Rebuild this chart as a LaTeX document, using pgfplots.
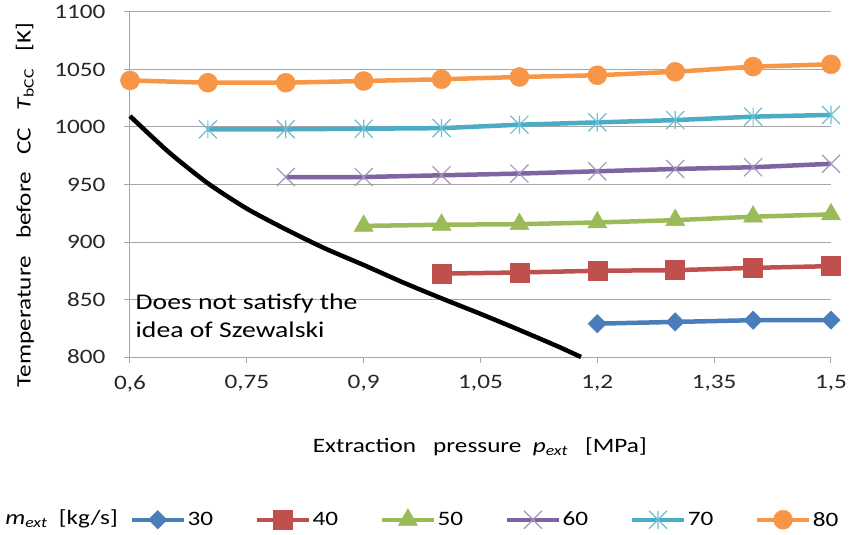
\documentclass[border=0pt]{standalone}
\usepackage{pgfplots}
\pgfplotsset{compat=1.18}
\usepackage{fontspec}
\setmainfont{Carlito}[FakeStretch=1.23]
\definecolor{cblue}{HTML}{4A7EBB}
\definecolor{cred}{HTML}{C0504D}
\definecolor{cgreen}{HTML}{9BBB59}
\definecolor{cpurple}{HTML}{8064A2}
\definecolor{ccyan}{HTML}{4BACC6}
\definecolor{corange}{HTML}{F79646}
\definecolor{cgrid}{HTML}{A6A6A6}
\pgfdeclareplotmark{xstar}{%
  \pgfpathmoveto{\pgfqpoint{-\pgfplotmarksize}{-\pgfplotmarksize}}%
  \pgfpathlineto{\pgfqpoint{\pgfplotmarksize}{\pgfplotmarksize}}%
  \pgfpathmoveto{\pgfqpoint{-\pgfplotmarksize}{\pgfplotmarksize}}%
  \pgfpathlineto{\pgfqpoint{\pgfplotmarksize}{-\pgfplotmarksize}}%
  \pgfpathmoveto{\pgfqpoint{0pt}{-\pgfplotmarksize}}%
  \pgfpathlineto{\pgfqpoint{0pt}{\pgfplotmarksize}}%
  \pgfusepathqstroke}
\pgfdeclareplotmark{xcross}{%
  \pgfpathmoveto{\pgfqpoint{-\pgfplotmarksize}{-\pgfplotmarksize}}%
  \pgfpathlineto{\pgfqpoint{\pgfplotmarksize}{\pgfplotmarksize}}%
  \pgfpathmoveto{\pgfqpoint{-\pgfplotmarksize}{\pgfplotmarksize}}%
  \pgfpathlineto{\pgfqpoint{\pgfplotmarksize}{-\pgfplotmarksize}}%
  \pgfusepathqstroke}
\begin{document}
\begin{tikzpicture}[font=\fontsize{20.5bp}{24bp}\selectfont]
\begin{axis}[
  scale only axis, clip=false,
  width=701bp, height=345bp,
  xmin=0.6, xmax=1.5, ymin=800, ymax=1100,
  xtick={0.6,0.75,0.9,1.05,1.2,1.35,1.5},
  ytick={800,850,900,950,1000,1050,1100},
  axis x line*=bottom, axis y line*=left,
  axis line style={cgrid, line width=1bp, -},
  ymajorgrids, grid style={cgrid, line width=1bp},
  tick align=outside, major tick length=6bp,
  tick style={cgrid, line width=1bp},
  /pgf/number format/.cd, use comma, 1000 sep={}, assume math mode=true,
  /pgfplots/.cd,
  xticklabel style={yshift=-9bp, text=black!85},
  yticklabel style={xshift=-15bp, text=black!85},
  xlabel={Extraction\ \ \ pressure\ \ \textit{p}\textsubscript{\textit{ext}}\ \ \ [MPa]},
  xlabel style={at={(axis description cs:0.499,0)}, anchor=center, yshift=-90bp},
  ylabel={Temperature\ \ \ before\ \ \ CC\ \ \ \textit{T}\textsubscript{bCC}\ \ \ [K]},
  ylabel style={at={(axis description cs:-0.15,0.44)}, anchor=center},
  legend columns=6,
  legend style={at={(axis description cs:0.506,0)}, anchor=center, yshift=-162bp,
    draw=none, fill=none, nodes={inner sep=1.5bp},
    /tikz/every even column/.append style={column sep=40bp}},
  legend image code/.code={\draw[#1, mark repeat=2, mark phase=2] plot coordinates {(0bp,0bp) (26bp,0bp) (52bp,0bp)};},
]
\addplot[cblue, line width=4.5bp, mark=square*, mark size=6.5bp, mark options={rotate=45, line width=0.5bp}]
  coordinates {(1.2,829) (1.3,830.5) (1.4,832) (1.5,832)};
\addlegendentry{30}
\addplot[cred, line width=4.5bp, mark=square*, mark size=9.5bp, mark options={line width=0.5bp}]
  coordinates {(1.0,872.5) (1.1,873.5) (1.2,875) (1.3,875.5) (1.4,877.5) (1.5,879)};
\addlegendentry{40}
\addplot[cgreen, line width=4.5bp, mark=triangle*, mark size=11bp, mark options={line width=0.5bp}]
  coordinates {(0.9,914) (1.0,915) (1.1,915.5) (1.2,917) (1.3,919) (1.4,922) (1.5,924)};
\addlegendentry{50}
\addplot[cpurple, line width=4.5bp, mark=xcross, mark size=9bp, mark options={line width=1.2bp, cpurple!70}]
  coordinates {(0.8,956.5) (0.9,956.5) (1.0,958) (1.1,959.5) (1.2,961.5) (1.3,963.5) (1.4,965) (1.5,968)};
\addlegendentry{60}
\addplot[ccyan, line width=4.5bp, mark=xstar, mark size=9bp, mark options={line width=1.2bp, ccyan!80}]
  coordinates {(0.7,998) (0.8,998) (0.9,998.5) (1.0,999) (1.1,1002) (1.2,1004) (1.3,1006) (1.4,1009) (1.5,1010.5)};
\addlegendentry{70}
\addplot[corange, line width=4.5bp, mark=*, mark size=9.5bp, mark options={line width=0.5bp}]
  coordinates {(0.6,1040.5) (0.7,1038.5) (0.8,1038.5) (0.9,1040) (1.0,1041.5) (1.1,1043.5) (1.2,1045) (1.3,1048) (1.4,1052.5) (1.5,1054.5)};
\addlegendentry{80}
\addplot[black, line width=4.5bp, smooth, tension=0.4, no marks, forget plot]
  coordinates {(0.6,1009.5) (0.65,978) (0.7,951) (0.75,929) (0.8,911) (0.85,894.5) (0.9,880) (0.95,865) (1.0,851) (1.05,837.5) (1.1,823.5) (1.15,809) (1.179,800)};
\node[anchor=west, align=left, font=\fontsize{22.5bp}{28bp}\selectfont, inner sep=0pt]
  at (axis cs:0.607,836) {Does not satisfy the\\idea of Szewalski};
\node[anchor=west, inner sep=0pt] at (axis description cs:-0.178,-0.470)
  {\textit{m}\textsubscript{\textit{ext}}\ \ [kg/s]};
\end{axis}
\pgfresetboundingbox
\path[use as bounding box] ([shift={(-130bp,-178bp)}]current axis.south west) rectangle ++(850bp,535bp);
\end{tikzpicture}
\end{document}
